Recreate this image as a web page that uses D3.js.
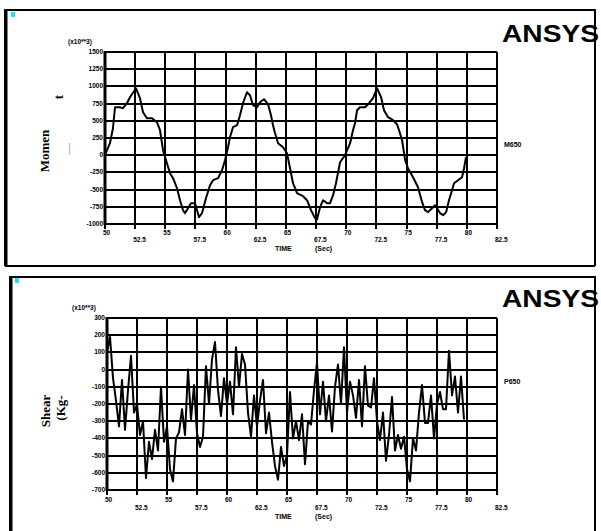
<!DOCTYPE html>
<meta charset="utf-8">
<style>
body { margin: 0; background: #fff; }
svg { display: block; }
.grid line { stroke: #000; stroke-width: 2px; shape-rendering: crispEdges; }
.tick-lab { font: bold 6.5px "Liberation Sans", Arial, sans-serif; fill: #000; }
.curve { fill: none; stroke: #000; stroke-width: 2px; stroke-linejoin: round; }
</style>
<body>
<svg width="601" height="531"></svg>
<script src="https://d3js.org/d3.v7.min.js"></script>
<script>
// x axis (time, sec)
var timeTicks = [50, 52.5, 55, 57.5, 60, 62.5, 65, 67.5, 70, 72.5, 75, 77.5, 80, 82.5];

// y ticks (x10**3)
var momentTicks = [1500, 1250, 1000, 750, 500, 250, 0, -250, -500, -750, -1000];
var shearTicks = [300, 200, 100, 0, -100, -200, -300, -400, -500, -600, -700];

// moment series
var momentTime = [50.0, 50.41, 50.66, 50.83, 51.24, 51.49, 51.82, 52.07, 52.57, 52.9, 53.15, 53.48, 53.9, 54.31,
  54.56, 54.81, 55.06, 55.39, 55.64, 55.97, 56.22, 56.47, 56.63, 56.88, 57.13, 57.46, 57.63, 57.79, 58.04,
  58.37, 58.71, 58.96, 59.37, 59.7, 59.95, 60.2, 60.36, 60.61, 60.95, 61.19, 61.44, 61.77, 62.02, 62.27,
  62.6, 62.85, 63.18, 63.52, 63.76, 63.93, 64.1, 64.35, 64.76, 65.09, 65.34, 65.59, 65.92, 66.42, 66.75,
  67.08, 67.41, 67.58, 67.83, 68.08, 68.41, 68.66, 68.91, 69.15, 69.49, 69.9, 70.32, 70.56, 70.73, 70.9,
  71.14, 71.56, 71.89, 72.22, 72.55, 72.89, 73.13, 73.47, 73.88, 74.21, 74.38, 74.63, 74.88, 75.12, 75.54,
  75.95, 76.29, 76.53, 76.78, 77.11, 77.36, 77.53, 77.78, 78.03, 78.28, 78.52, 78.77, 78.94, 79.27, 79.6,
  79.77, 79.93];
var momentValue = [0, 174, 392, 697, 697, 683, 756, 843, 973, 828, 625, 538, 538, 479,
  363, 73, -73, -262, -334, -479, -654, -799, -843, -770, -697, -697, -799, -901, -843,
  -625, -436, -363, -334, -218, -73, 116, 262, 407, 436, 581, 756, 915, 872, 727,
  697, 770, 814, 741, 581, 436, 320, 174, 116, 29, -189, -407, -552, -596, -654,
  -799, -915, -930, -756, -654, -697, -697, -581, -407, -102, 0, 174, 363, 465, 654,
  697, 697, 756, 828, 973, 843, 654, 552, 509, 450, 363, 218, -73, -189, -320,
  -465, -683, -799, -828, -770, -727, -770, -843, -872, -828, -654, -509, -407, -363, -320,
  -189, -29];

// shear series
var shearTime = [50, 50.25, 50.5, 50.75, 51, 51.25, 51.5, 51.75, 52, 52.25, 52.5, 52.75, 53, 53.25, 53.5, 53.75,
  54, 54.25, 54.5, 54.75, 55, 55.25, 55.5, 55.75, 56, 56.25, 56.5, 56.75, 57, 57.25, 57.5, 57.75,
  58, 58.25, 58.5, 58.75, 59, 59.25, 59.5, 59.75, 60, 60.25, 60.5, 60.75, 61, 61.25, 61.5, 61.75,
  62, 62.25, 62.5, 62.75, 63, 63.25, 63.5, 63.75, 64, 64.25, 64.5, 64.75, 65, 65.25, 65.5, 65.75,
  66, 66.25, 66.5, 66.75, 67, 67.25, 67.5, 67.75, 68, 68.25, 68.5, 68.75, 69, 69.25, 69.5, 69.75,
  70, 70.25, 70.5, 70.75, 71, 71.25, 71.5, 71.75, 72, 72.25, 72.5, 72.75, 73, 73.25, 73.5, 73.75,
  74, 74.25, 74.5, 74.75, 75, 75.25, 75.5, 75.75, 76, 76.25, 76.5, 76.75, 77, 77.25, 77.5, 77.75,
  78, 78.25, 78.5, 78.75, 79, 79.25, 79.5, 79.75];
var shearValue = [100, 190, -50, -180, -330, -60, -350, -120, 80, -250, -200, -380, -300, -630, -420, -520,
  -350, -470, -100, -420, -330, -580, -650, -400, -365, -230, -380, 0, -290, -90, -370, -450,
  -390, 20, -200, 60, 160, -120, -270, -50, -200, -70, -260, 130, -100, 90, 30, -250,
  -390, -150, -330, -180, -60, -370, -250, -420, -560, -640, -450, -560, -500, -130, -400, -300,
  -410, -260, -550, -300, -320, -120, 40, -260, -70, -300, -150, -360, -100, 30, -200, 130,
  -250, -70, -150, -280, -60, -330, 20, -210, -220, -50, -300, -410, -250, -530, -380, -160,
  -470, -380, -460, -390, -580, -650, -400, -470, -250, -90, -310, -310, -150, -400, -200, -130,
  -230, -230, 110, -150, -40, -250, -40, -290];

var svg = d3.select("svg");

var panels = [
  { frame: [5, 10, 595, 266], plot: {left: 105, right: 497, top: 52, bottom: 224},
    yTicks: momentTicks, time: momentTime, value: momentValue, curveName: "M650",
    ansysY: 42, unitY: 44, unitX: 68, nameY: 147, labY: [235, 242], titleY: 251, cyan: [11, 12] },
  { frame: [10, 277, 595, 540], plot: {left: 107, right: 497, top: 318, bottom: 490},
    yTicks: shearTicks, time: shearTime, value: shearValue, curveName: "P650",
    ansysY: 307, unitY: 310, unitX: 72, nameY: 384, labY: [502, 510], titleY: 519, cyan: [15, 278] }
];

panels.forEach(function(p) {
  var g = svg.append("g");
  var f = p.frame;

  // outer window frame
  g.append("path")
      .attr("d", "M" + f[0] + "," + f[3] + "V" + f[1] + "H" + f[2] + "V" + f[3])
      .attr("fill", "none").attr("stroke", "#000").attr("stroke-width", 2);
  g.append("line")
      .attr("x1", f[0]).attr("x2", f[2]).attr("y1", f[3]).attr("y2", f[3])
      .attr("stroke", "#000").attr("stroke-width", 2);
  g.append("line")
      .attr("x1", f[0] + 1.5).attr("x2", f[0] + 1.5).attr("y1", f[1]).attr("y2", f[3])
      .attr("stroke", "#000").attr("stroke-width", 2);
  g.append("rect")
      .attr("x", p.cyan[0]).attr("y", p.cyan[1]).attr("width", 4).attr("height", 5)
      .attr("fill", "#22e0f0");

  var x = d3.scaleLinear().domain([50, 82.5]).range([p.plot.left, p.plot.right]);
  var y = d3.scaleLinear()
      .domain([p.yTicks[p.yTicks.length - 1], p.yTicks[0]])
      .range([p.plot.bottom, p.plot.top]);

  // grid
  var grid = g.append("g").attr("class", "grid");
  grid.selectAll(".v").data(timeTicks).enter().append("line")
      .attr("x1", d => x(d)).attr("x2", d => x(d))
      .attr("y1", p.plot.top).attr("y2", p.plot.bottom + 5);
  grid.selectAll(".h").data(p.yTicks).enter().append("line")
      .attr("x1", p.plot.left).attr("x2", p.plot.right)
      .attr("y1", d => y(d)).attr("y2", d => y(d));
  g.append("line")
      .attr("x1", p.plot.left).attr("x2", p.plot.left)
      .attr("y1", p.plot.top - 1).attr("y2", p.plot.bottom + 1)
      .attr("stroke", "#000").attr("stroke-width", 3);

  // y tick labels
  g.selectAll(".ylab").data(p.yTicks).enter().append("text")
      .attr("class", "tick-lab")
      .attr("x", p.plot.left - 2).attr("y", d => y(d) + 2)
      .attr("text-anchor", "end")
      .text(d => d);

  // x tick labels, staggered
  g.selectAll(".xlab").data(timeTicks).enter().append("text")
      .attr("class", "tick-lab")
      .attr("x", d => x(d) - 2)
      .attr("y", (d, i) => p.labY[i % 2])
      .text(d => d);

  g.append("text").attr("class", "tick-lab")
      .attr("x", p.unitX).attr("y", p.unitY).text("(x10**3)");

  g.append("text")
      .attr("x", 275).attr("y", p.titleY)
      .style("font", "bold 7px 'Liberation Sans', Arial, sans-serif")
      .text("TIME");
  g.append("text")
      .attr("x", 315).attr("y", p.titleY)
      .style("font", "bold 7px 'Liberation Sans', Arial, sans-serif")
      .text("(Sec)");

  g.append("text")
      .attr("x", 504).attr("y", p.nameY)
      .style("font", "bold 7px 'Liberation Sans', Arial, sans-serif")
      .text(p.curveName);

  g.append("text")
      .attr("x", 502).attr("y", p.ansysY)
      .attr("textLength", 97).attr("lengthAdjust", "spacingAndGlyphs")
      .style("font", "bold 24px 'Liberation Sans', Arial, sans-serif")
      .text("ANSYS");

  var line = d3.line()
      .x((d, i) => x(p.time[i]))
      .y(d => y(d));
  g.append("path")
      .datum(p.value)
      .attr("class", "curve")
      .attr("d", line);
});

// side captions pasted over the plots
function sideText(txt, bx, cy, size, col) {
  svg.append("text")
      .attr("transform", "translate(" + bx + "," + cy + ") rotate(-90)")
      .attr("text-anchor", "middle")
      .style("font", "bold " + size + "px 'Liberation Serif', 'Times New Roman', serif")
      .attr("fill", col || "#000")
      .text(txt);
}
sideText("Momen", 49, 151, 13);
sideText("t", 63, 97, 13);
sideText("\u2014", 72, 149, 12, "#aaa");
sideText("Shear", 50, 411, 13);
sideText("(Kg-", 65, 408, 13);
</script>
